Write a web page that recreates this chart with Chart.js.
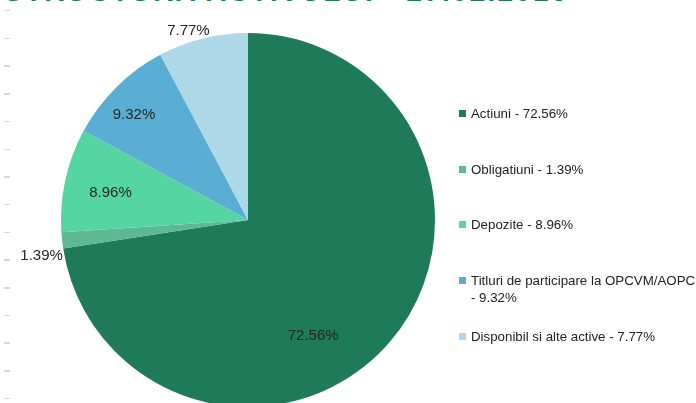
<!DOCTYPE html>
<html>
<head>
<meta charset="utf-8">
<script src="https://cdn.jsdelivr.net/npm/chart.js@4"></script>
<style>
    html, body { margin: 0; padding: 0; background: #fff; overflow: hidden; }
    body { width: 696px; height: 403px; position: relative; }
    .title {
        position: absolute; left: 4px; top: -24px; margin: 0;
        font: bold 28px 'Liberation Sans', Arial, sans-serif; letter-spacing: 2.2px;
        color: #1f7a5a; white-space: nowrap;
    }
    .ticks {
        position: absolute; left: 4px; top: 10px; width: 6px; height: 393px;
        background: repeating-linear-gradient(to bottom, #d6d6d6 0 1.5px, transparent 1.5px 27.7px);
    }
    .wrap { position: absolute; left: 0; top: 0; width: 696px; height: 440px; }
    #legend { position: absolute; left: 459px; top: 105px; width: 237px; font: 13.3px 'Liberation Sans', Arial, sans-serif; color: #222; }
    .leg-item { height: 55.7px; display: flex; align-items: flex-start; line-height: 17px; }
    .leg-box { width: 7px; height: 7px; margin: 5px 5px 0 0; flex: none; }
    .leg-text { width: 225px; }
    .leg-text span { white-space: nowrap; }
</style>
</head>
<body>
<div class="ticks"></div>
<h1 class="title">STRUCTURA ACTIVULUI - 27.02.2016</h1>
<div class="wrap"><canvas id="pieChart"></canvas></div>
<div id="legend"></div>
<script>
// ===== DATA =====
const categories = ['Actiuni', 'Obligatiuni', 'Depozite', 'Titluri de participare la OPCVM/AOPC', 'Disponibil si alte active'];
const shares = [72.56, 1.39, 8.96, 9.32, 7.77];
const colors = ['#1f7a5a', '#5cb895', '#55d5a2', '#5aaed3', '#acd8e7'];

// label placement: radial factor and angle shift (deg) per slice
const labelRadius = [0.71, 1.12, 0.75, 0.83, 1.06];
const labelShift = [20, -3.5, -1, -2.5, -3.5];

const pieLabels = {
    id: 'pieLabels',
    afterDatasetsDraw(chart) {
        const g = chart.ctx;
        const arcs = chart.getDatasetMeta(0).data;
        g.save();
        g.font = '15px "Liberation Sans", Arial, sans-serif';
        g.fillStyle = '#262626';
        g.textAlign = 'center';
        g.textBaseline = 'middle';
        arcs.forEach((a, i) => {
            const mid = (a.startAngle + a.endAngle) / 2 + labelShift[i] * Math.PI / 180;
            const r = a.outerRadius * labelRadius[i];
            g.fillText(shares[i].toFixed(2) + '%', a.x + Math.cos(mid) * r, a.y + Math.sin(mid) * r);
        });
        g.restore();
    }
};

function initPie() {
    const ctx = document.getElementById('pieChart');
    new Chart(ctx, {
        type: 'pie',
        data: { labels: categories, datasets: [{ data: shares, backgroundColor: colors, borderWidth: 0 }] },
        options: {
            responsive: true, maintainAspectRatio: false, animation: false,
            layout: { padding: { top: 33, bottom: 33, left: 61, right: 261 } },
            plugins: { legend: { display: false }, tooltip: { enabled: false } }
        },
        plugins: [pieLabels]
    });
}

function initLegend() {
    const el = document.getElementById('legend');
    let html = '';
    categories.forEach((c, i) => {
        html += `<div class="leg-item"><span class="leg-box" style="background:${colors[i]}"></span>
            <div class="leg-text"><span>${c}</span> <span>- ${shares[i].toFixed(2)}%</span></div></div>`;
    });
    el.innerHTML = html;
}

initPie();
initLegend();
</script>
</body>
</html>
